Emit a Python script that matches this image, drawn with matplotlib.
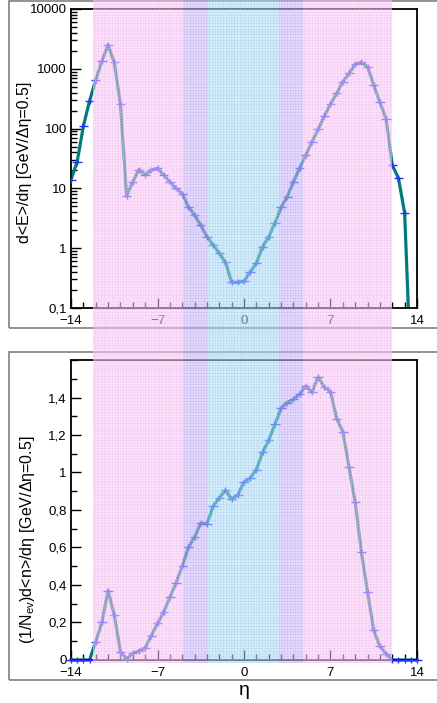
import matplotlib.pyplot as plt
import numpy as np
from matplotlib.patches import Rectangle
from matplotlib.transforms import blended_transform_factory
from matplotlib.ticker import FixedLocator, MultipleLocator, FuncFormatter, NullFormatter, LogLocator

plt.rcParams['font.family'] = ['Liberation Sans', 'DejaVu Sans']
plt.rcParams['mathtext.fontset'] = 'custom'
plt.rcParams['mathtext.rm'] = 'Liberation Sans'
plt.rcParams['hatch.linewidth'] = 0.4

# eta bins (dEta = 0.5)
eta = [-14, -13.5, -13, -12.5, -12, -11.5, -11, -10.5, -10, -9.5,
       -9, -8.5, -8, -7.5, -7, -6.5, -6, -5.5, -5, -4.5,
       -4, -3.5, -3, -2.5, -2, -1.5, -1, -0.5, 0, 0.5,
       1, 1.5, 2, 2.5, 3, 3.5, 4, 4.5, 5, 5.5,
       6, 6.5, 7, 7.5, 8, 8.5, 9, 9.5, 10, 10.5,
       11, 11.5, 12, 12.5, 13, 13.5, 14]

# d<E>/deta
energy = [14, 28, 110, 290, 650, 1350, 2500, 1280, 257, 7.5,
          12.9, 20.6, 16.7, 20.3, 21.7, 16.7, 12.9, 10, 8.2, 4.9,
          3.6, 2.4, 1.56, 1.13, 0.82, 0.58, 0.27, 0.27, 0.28, 0.40,
          0.56, 1.06, 1.55, 2.6, 4.8, 7.3, 12.9, 21.7, 36, 60,
          97, 162, 257, 389, 608, 841, 1190, 1280, 1085, 535,
          275, 145, 24.6, 14.8, 3.9, 0.009, 0.0001]

# (1/Nev) d<n>/deta
mult = [0, 0, 0, 0, 0.098, 0.2, 0.37, 0.24, 0.044, 0.005,
        0.035, 0.048, 0.065, 0.13, 0.195, 0.255, 0.335, 0.41, 0.5, 0.6,
        0.655, 0.73, 0.725, 0.82, 0.865, 0.905, 0.858, 0.88, 0.95, 0.97,
        1.015, 1.108, 1.172, 1.256, 1.343, 1.373, 1.39, 1.418, 1.46, 1.428,
        1.51, 1.455, 1.432, 1.288, 1.217, 1.028, 0.841, 0.575, 0.362, 0.158,
        0.073, 0.033, 0, 0, 0, 0, 0]

# acceptance regions drawn over both pads
band_lo = [-12.2, -4.9, -2.95, 2.8, 4.8]
band_hi = [-4.9, -2.95, 2.8, 4.8, 12.0]
band_face = ['#f9cbf6', '#cdb9f9', '#b0dcf7', '#cdb9f9', '#f9cbf6']
band_hatch = ['#f0b0ec', '#b9a3f0', '#94c6ec', '#b9a3f0', '#f0b0ec']

fig = plt.figure(figsize=(4.37, 7.03), dpi=100)
ax1 = fig.add_axes([0.1625, 0.5619, 0.7917, 0.4253])
ax2 = fig.add_axes([0.1625, 0.0612, 0.7917, 0.4267])

# pad frames
fig.add_artist(Rectangle((0.0206, 0.5334), 1.0, 0.4656, transform=fig.transFigure,
                         fill=False, ec='#808080', lw=1.2))
fig.add_artist(Rectangle((0.0206, 0.0327), 1.0, 0.4666, transform=fig.transFigure,
                         fill=False, ec='#808080', lw=1.2))

line_c = '#007b7b'
mark_c = '#2b2bff'

for ax, vals, clip in [(ax1, energy, True), (ax2, mult, False)]:
    ax.plot(eta, vals, color=line_c, lw=2.3, zorder=2, clip_on=clip)
    eb = ax.errorbar(eta, vals, xerr=0.38, fmt='|', color=mark_c, ms=4,
                     elinewidth=1.0, mew=1.0, zorder=3)
    for art in eb.get_children():
        art.set_clip_on(clip)
    ax.set_xlim(-14, 14)
    ax.xaxis.set_major_locator(FixedLocator([-14, -7, 0, 7, 14]))
    ax.xaxis.set_minor_locator(MultipleLocator(1))
    ax.tick_params(which='both', direction='in', top=False, right=False,
                   labelsize=9.5, width=1.0)
    ax.tick_params(which='major', length=7, pad=3)
    ax.tick_params(axis='x', which='major', pad=5)
    ax.tick_params(which='minor', length=4)
    for s in ax.spines.values():
        s.set_linewidth(1.3)

ax1.set_yscale('log')
ax1.set_ylim(0.1, 10000)
ax1.yaxis.set_major_locator(LogLocator(base=10, numticks=10))
ax1.yaxis.set_minor_locator(LogLocator(base=10, subs=np.arange(2, 10), numticks=20))
ax1.yaxis.set_minor_formatter(NullFormatter())
ax1.yaxis.set_major_formatter(FuncFormatter(lambda v, p: ('%g' % v).replace('.', ',')))
ax1.set_ylabel('d<E>/dη [GeV/Δη=0.5]', fontsize=11.5)
ax1.yaxis.set_label_coords(-0.112, 0.488)

ax2.set_ylim(0, 1.6)
ax2.yaxis.set_major_locator(FixedLocator([0, 0.2, 0.4, 0.6, 0.8, 1.0, 1.2, 1.4]))
ax2.yaxis.set_minor_locator(MultipleLocator(0.1))
ax2.yaxis.set_major_formatter(FuncFormatter(lambda v, p: ('%g' % round(v, 2)).replace('.', ',')))
ax2.set_ylabel(r'(1/N$_{\mathrm{ev}}$)d<n>/dη [GeV/Δη=0.5]', fontsize=11.5)
ax2.yaxis.set_label_coords(-0.097, 0.40)
ax2.set_xlabel('η', fontsize=14, labelpad=2)

trans = blended_transform_factory(ax1.transData, fig.transFigure)
for lo, hi, fc, hc in zip(band_lo, band_hi, band_face, band_hatch):
    fig.add_artist(Rectangle((lo, 0.057), hi - lo, 0.95, transform=trans,
                             facecolor=fc, edgecolor=hc, hatch='++++++',
                             lw=0, alpha=0.5, zorder=10))

fig.savefig('out.png', dpi=100)
